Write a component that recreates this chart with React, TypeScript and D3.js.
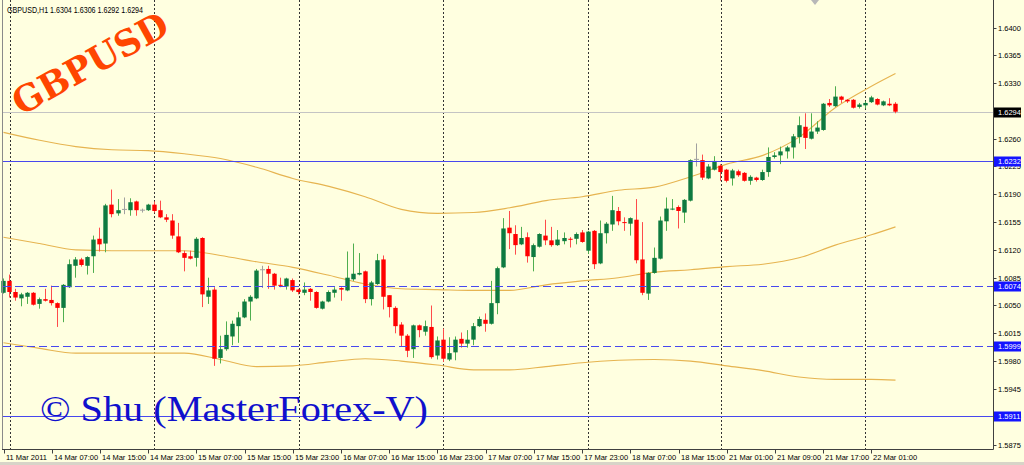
import * as d3 from "d3";

// hourly GBPUSD bars, 13 Mar 23:00 .. 22 Mar 05:00
const opens = [
  1.6066, 1.6081, 1.6067, 1.6059, 1.6061, 1.6066, 1.6052, 1.6058, 1.6057, 1.6053,
  1.6047, 1.6073, 1.61, 1.6108, 1.61, 1.6112, 1.6134, 1.6128, 1.6177, 1.6166,
  1.6171, 1.617, 1.6181, 1.617, 1.617, 1.6177, 1.617, 1.6161, 1.6157, 1.6137,
  1.6116, 1.6112, 1.611, 1.6135, 1.6061, 1.607, 1.5984, 1.5995, 1.6011, 1.6024,
  1.6035, 1.6055, 1.6059, 1.6095, 1.6096, 1.609, 1.6076, 1.6074, 1.6082, 1.607,
  1.6066, 1.6071, 1.6067, 1.6046, 1.6055, 1.6066, 1.6072, 1.6069, 1.6083, 1.6089,
  1.6093, 1.6058, 1.6077, 1.6108, 1.6063, 1.6047, 1.6026, 1.6012, 1.5995, 1.6025,
  1.6017, 1.6023, 1.5987, 1.6007, 1.5982, 1.5991, 1.6008, 1.6002, 1.6007, 1.6024,
  1.6032, 1.6027, 1.6053, 1.6098, 1.6148, 1.614, 1.6127, 1.6136, 1.6111, 1.6124,
  1.6138, 1.6132, 1.6126, 1.6131, 1.6134, 1.6134, 1.6142, 1.6119, 1.6144, 1.6103,
  1.6141, 1.6152, 1.6169, 1.6155, 1.6153, 1.6158, 1.6108, 1.6065, 1.6091, 1.6109,
  1.6156, 1.6171, 1.6174, 1.6167, 1.6182, 1.6234, 1.6233, 1.621, 1.6221, 1.6226,
  1.6221, 1.621, 1.6219, 1.6217, 1.6207, 1.6211, 1.6208, 1.6218, 1.6237, 1.6239,
  1.6244, 1.6249, 1.6262, 1.6275, 1.626, 1.6269, 1.6271, 1.6305, 1.6301, 1.6313,
  1.6309, 1.6309, 1.63, 1.6302, 1.6306, 1.631, 1.6302, 1.6304, 1.6304,
];
const highs = [
  1.6084, 1.6089, 1.6071, 1.6066, 1.6067, 1.6067, 1.606, 1.6071, 1.6075, 1.6054,
  1.6077, 1.6108, 1.6111, 1.611, 1.6112, 1.6138, 1.6148, 1.6178, 1.6196, 1.6184,
  1.6186, 1.6185, 1.6182, 1.6172, 1.6178, 1.6181, 1.6182, 1.6165, 1.6165, 1.6154,
  1.6119, 1.6119, 1.6136, 1.6136, 1.6085, 1.6073, 1.6012, 1.603, 1.6031, 1.6042,
  1.6058, 1.6063, 1.6096, 1.61, 1.61, 1.6091, 1.6085, 1.6085, 1.6084, 1.6071,
  1.6079, 1.6072, 1.6068, 1.6056, 1.6069, 1.6073, 1.6073, 1.6118, 1.6128, 1.6116,
  1.6094, 1.6081, 1.6115, 1.6113, 1.6063, 1.6049, 1.6029, 1.6014, 1.6026, 1.6026,
  1.6031, 1.605, 1.6011, 1.6021, 1.601, 1.6011, 1.6016, 1.6019, 1.6028, 1.6036,
  1.604, 1.6081, 1.6099, 1.616, 1.6169, 1.6151, 1.6149, 1.6142, 1.6128, 1.6141,
  1.6158, 1.6149, 1.6145, 1.6142, 1.6136, 1.6142, 1.6145, 1.6144, 1.6145, 1.6157,
  1.6155, 1.6188, 1.6174, 1.6161, 1.6161, 1.6184, 1.6155, 1.6092, 1.6123, 1.6162,
  1.6186, 1.6184, 1.6176, 1.6184, 1.6234, 1.6254, 1.624, 1.6228, 1.6238, 1.6228,
  1.6222, 1.6222, 1.6221, 1.6218, 1.6214, 1.6212, 1.6221, 1.6249, 1.6243, 1.625,
  1.6251, 1.6266, 1.6288, 1.6292, 1.6292, 1.6282, 1.6305, 1.631, 1.6326, 1.6314,
  1.631, 1.631, 1.6305, 1.6307, 1.6314, 1.6311, 1.6308, 1.6311, 1.6306,
];
const lows = [
  1.6065, 1.606, 1.6056, 1.6049, 1.6052, 1.605, 1.6046, 1.6055, 1.605, 1.6023,
  1.6029, 1.6072, 1.6085, 1.6099, 1.6089, 1.6091, 1.6118, 1.6117, 1.6161, 1.6163,
  1.6165, 1.6163, 1.6163, 1.6167, 1.6169, 1.6167, 1.616, 1.6155, 1.6134, 1.6116,
  1.6093, 1.6108, 1.6099, 1.6048, 1.6052, 1.5974, 1.5977, 1.5993, 1.6, 1.6003,
  1.6034, 1.6031, 1.6058, 1.6072, 1.6071, 1.607, 1.6073, 1.607, 1.6067, 1.6064,
  1.6063, 1.6056, 1.6046, 1.6045, 1.6054, 1.606, 1.6056, 1.6068, 1.6081, 1.6088,
  1.6053, 1.605, 1.6076, 1.6045, 1.6035, 1.6015, 1.5998, 1.5985, 1.5984, 1.601,
  1.6012, 1.5983, 1.5982, 1.5979, 1.598, 1.5981, 1.5997, 1.5997, 1.6, 1.6023,
  1.6017, 1.6026, 1.6039, 1.6097, 1.6121, 1.6114, 1.6126, 1.6104, 1.6093, 1.6123,
  1.6126, 1.6124, 1.6125, 1.6127, 1.6123, 1.6127, 1.6129, 1.6115, 1.6096, 1.6102,
  1.6128, 1.6144, 1.6151, 1.6144, 1.6138, 1.6103, 1.6063, 1.6057, 1.609, 1.6108,
  1.6144, 1.617, 1.6147, 1.6154, 1.6181, 1.6225, 1.6208, 1.6209, 1.622, 1.6207,
  1.6205, 1.6201, 1.6212, 1.6206, 1.6202, 1.6206, 1.6207, 1.6212, 1.6235, 1.6228,
  1.6235, 1.6235, 1.6254, 1.6247, 1.6259, 1.6266, 1.627, 1.63, 1.63, 1.6305,
  1.6305, 1.6298, 1.6298, 1.6298, 1.6305, 1.6302, 1.6301, 1.6301, 1.6292,
];
const closes = [
  1.6081, 1.6067, 1.606, 1.6064, 1.6066, 1.6051, 1.6058, 1.6056, 1.6053, 1.6047,
  1.6076, 1.6102, 1.6108, 1.6101, 1.6111, 1.6133, 1.6127, 1.6176, 1.6165, 1.617,
  1.6171, 1.618, 1.617, 1.617, 1.6177, 1.6169, 1.6161, 1.6158, 1.6138, 1.6117,
  1.611, 1.6109, 1.6134, 1.6064, 1.6069, 1.5983, 1.5995, 1.6013, 1.6027, 1.6035,
  1.6055, 1.6061, 1.6094, 1.6095, 1.609, 1.6075, 1.6075, 1.6084, 1.6069, 1.6067,
  1.607, 1.6067, 1.6047, 1.6055, 1.6067, 1.607, 1.607, 1.6085, 1.609, 1.6091,
  1.6058, 1.6079, 1.6107, 1.6061, 1.6048, 1.6024, 1.6012, 1.5993, 1.6025, 1.6019,
  1.6024, 1.5985, 1.6006, 1.5983, 1.599, 1.6007, 1.6002, 1.6007, 1.6024, 1.6033,
  1.6027, 1.6053, 1.6097, 1.6147, 1.6141, 1.6126, 1.6135, 1.6112, 1.6126, 1.614,
  1.6132, 1.6126, 1.6133, 1.6135, 1.6133, 1.614, 1.613, 1.6143, 1.6102, 1.6141,
  1.6153, 1.617, 1.6156, 1.6154, 1.616, 1.6107, 1.6066, 1.6091, 1.611, 1.6157,
  1.6172, 1.6172, 1.6169, 1.6183, 1.6233, 1.6234, 1.6211, 1.6225, 1.6232, 1.6218,
  1.6207, 1.622, 1.6214, 1.6207, 1.6212, 1.6208, 1.6218, 1.6237, 1.6239, 1.6244,
  1.6249, 1.6263, 1.6277, 1.6261, 1.6269, 1.6274, 1.6304, 1.6302, 1.6313, 1.6309,
  1.6307, 1.6299, 1.6303, 1.6305, 1.6312, 1.6303, 1.6307, 1.6302, 1.6294,
];

// envelope lines, sampled at bar indices
const bandIdx = [0, 6, 12, 18, 24, 30, 36, 42, 48, 54, 60, 66, 72, 78, 84, 90, 96, 102, 108, 114, 120, 126, 132, 138, 144, 148];
const upperBand = [
  1.6268, 1.6258, 1.625, 1.6246, 1.6245, 1.6241, 1.6235, 1.6224, 1.621, 1.62, 1.6187, 1.6171, 1.6166,
  1.6167, 1.6173, 1.6182, 1.6187, 1.6195, 1.6199, 1.6212, 1.6228, 1.6239, 1.6262, 1.6299, 1.6326, 1.6342,
];
const midBand = [
  1.6136, 1.6128, 1.612, 1.6119, 1.6119, 1.6119, 1.6113, 1.6105, 1.6098, 1.6088, 1.6077, 1.6071, 1.607,
  1.6069, 1.6069, 1.6076, 1.6081, 1.6085, 1.6092, 1.6095, 1.6099, 1.6102, 1.611, 1.6126, 1.6139, 1.6149,
];
const lowerBand = [
  1.6003, 1.5996, 1.599, 1.599, 1.599, 1.599, 1.5982, 1.5973, 1.5974, 1.5979, 1.5983, 1.598, 1.5975,
  1.5969, 1.5969, 1.5973, 1.5978, 1.5981, 1.5982, 1.598, 1.5974, 1.5968, 1.596, 1.5957, 1.5957, 1.5956,
];

const levelValues = [1.6232, 1.6074, 1.5999, 1.5911];
const levelDashed = [false, true, true, false];
const lastPrice = 1.6294;

const priceTicks = [
  1.5875, 1.591, 1.5945, 1.598, 1.6015, 1.605, 1.6085, 1.612, 1.6155, 1.619, 1.6225, 1.626, 1.6295, 1.633, 1.6365, 1.64,
];
const timeLabels = [
  "11 Mar 2011", "14 Mar 07:00", "14 Mar 15:00", "14 Mar 23:00", "15 Mar 07:00", "15 Mar 15:00", "15 Mar 23:00",
  "16 Mar 07:00", "16 Mar 15:00", "16 Mar 23:00", "17 Mar 07:00", "17 Mar 15:00", "17 Mar 23:00", "18 Mar 07:00",
  "18 Mar 15:00", "21 Mar 01:00", "21 Mar 09:00", "21 Mar 17:00", "22 Mar 01:00",
];
const labelStep = 8; // bars between time labels
const daySeparators = [1, 25, 49, 73, 97, 119, 143];

const W = 1024;
const H = 465;
const axisX = 993.5;
const axisY = 449.5;
const bg = "#FFFFE0";
const font = "'Liberation Sans', Tahoma, sans-serif";

export default function App() {
  const x = d3.scaleLinear().domain([0, 148]).range([3.5, 895.5]);
  const y = d3.scaleLinear().domain([1.5875, 1.64]).range([444.5, 27.5]);

  const band = d3
    .line<number>()
    .x((_, i) => x(bandIdx[i]))
    .y((d) => y(d))
    .curve(d3.curveMonotoneX);

  const fmt = d3.format(".4f");

  return (
    <svg width={W} height={H} style={{ display: "block" }} fontFamily={font}>
      <style>{`body{margin:0}`}</style>
      <rect width={W} height={H} fill={bg} />
      <rect y={462} width={W} height={3} fill="#D8D4C8" />

      {/* day separators */}
      {daySeparators.map((d) => {
        const px = Math.round(x(d)) + 0.5;
        return <line key={d} x1={px} x2={px} y1={0} y2={axisY} stroke="#333" strokeDasharray="2,2" />;
      })}

      {/* last price line */}
      <line x1={3} x2={axisX} y1={Math.round(y(lastPrice)) + 0.5} y2={Math.round(y(lastPrice)) + 0.5} stroke="#C4C4C4" />

      {/* envelopes */}
      {[upperBand, midBand, lowerBand].map((b, k) => (
        <path key={k} d={band(b) ?? ""} fill="none" stroke="#E6B450" strokeWidth={1.1} />
      ))}

      {/* candles */}
      {opens.map((o, i) => {
        const c = closes[i];
        const cx = Math.floor(x(i)) + 0.5;
        const up = c > o;
        const flat = c === o;
        const wick = flat ? "#A0A0A0" : up ? "#4FAE4F" : "#FF4B4B";
        const body = flat ? "#A0A0A0" : up ? "#0E7A40" : "#FF0000";
        const top = y(Math.max(o, c));
        const h = Math.max(1, y(Math.min(o, c)) - top);
        return (
          <g key={i}>
            <line x1={cx} x2={cx} y1={y(Math.max(highs[i], o, c))} y2={y(Math.min(lows[i], o, c))} stroke={wick} />
            {flat ? (
              <line x1={cx - 2.5} x2={cx + 2.5} y1={top} y2={top} stroke={body} />
            ) : (
              <rect x={cx - 2.2} y={top} width={4.4} height={h} fill={body} />
            )}
          </g>
        );
      })}

      {/* horizontal levels */}
      {levelValues.map((v, k) => {
        const py = Math.round(y(v)) + 0.5;
        return (
          <line
            key={v}
            x1={3}
            x2={axisX}
            y1={py}
            y2={py}
            stroke="#4848EE"
            strokeDasharray={levelDashed[k] ? "8,4" : undefined}
          />
        );
      })}

      {/* watermarks */}
      <text
        x={90}
        y={63}
        transform="rotate(-29 90 63)"
        textAnchor="middle"
        dominantBaseline="central"
        fontFamily="'DejaVu Serif', serif"
        fontWeight="bold"
        fontSize={36}
        fill="#FF4500"
        textLength={172}
        lengthAdjust="spacingAndGlyphs"
      >
        GBPUSD
      </text>
      <text
        x={40}
        y={421}
        fontFamily="'Liberation Serif', 'Times New Roman', serif"
        fontSize={35}
        fill="#1010CC"
        textLength={388}
        lengthAdjust="spacingAndGlyphs"
      >
        © Shu (MasterForex-V)
      </text>

      {/* header */}
      <text x={7} y={12.7} fontSize={8.5} fill="#000" textLength={136} lengthAdjust="spacingAndGlyphs">
        GBPUSD,H1  1.6304 1.6306 1.6292 1.6294
      </text>

      {/* frame */}
      <line x1={2.5} x2={2.5} y1={0} y2={axisY} stroke="#8A8A8A" />
      <line x1={axisX} x2={axisX} y1={0} y2={axisY} stroke="#404040" />
      <line x1={2} x2={axisX} y1={axisY} y2={axisY} stroke="#404040" />
      <path d="M811,0 L819,0 L815,5 Z" fill="#B8B8B8" />

      {/* price axis */}
      {priceTicks.map((t) => {
        const py = Math.round(y(t)) + 0.5;
        return (
          <g key={t}>
            <line x1={axisX} x2={axisX + 3} y1={py} y2={py} stroke="#404040" />
            <text x={998} y={py} dominantBaseline="central" fontSize={7.5} fill="#000">
              {fmt(t)}
            </text>
          </g>
        );
      })}

      {/* price tags */}
      {[lastPrice, ...levelValues].map((v, k) => {
        const py = Math.round(y(v)) + 0.5;
        return (
          <g key={"tag" + k}>
            <rect x={994} y={py - 5} width={27} height={10} fill={k === 0 ? "#000" : "#1414FF"} />
            <text x={998} y={py} dominantBaseline="central" fontSize={7.5} fill="#fff">
              {fmt(v)}
            </text>
          </g>
        );
      })}

      {/* time axis */}
      {timeLabels.map((lab, k) => {
        const px = Math.round(x(k * labelStep)) + 0.5;
        return (
          <g key={lab}>
            <line x1={px} x2={px} y1={axisY} y2={axisY + 4} stroke="#404040" />
            <text x={px + 1.5} y={459.5} fontSize={7.5} fill="#000">
              {lab}
            </text>
          </g>
        );
      })}
    </svg>
  );
}
